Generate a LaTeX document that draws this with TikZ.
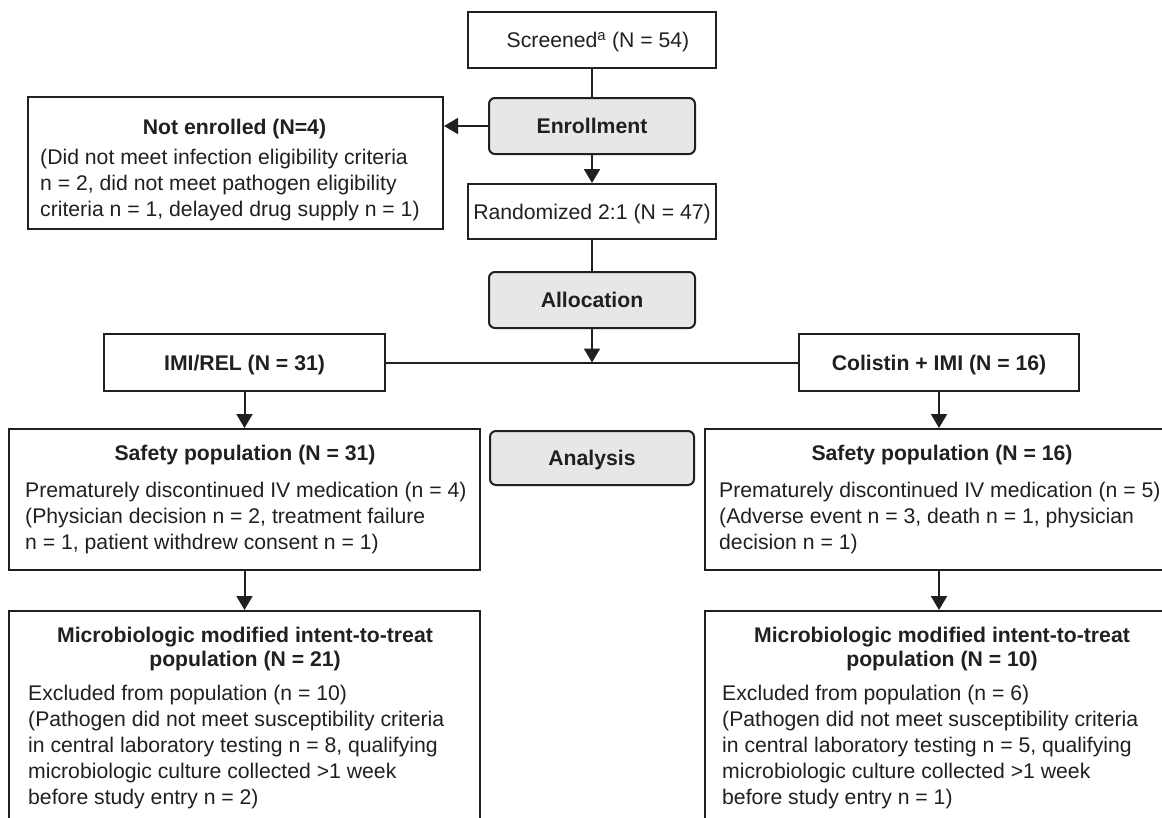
\documentclass[tikz,border=0pt]{standalone}
\usepackage{fontspec}
\setmainfont{Liberation Sans}
\usetikzlibrary{arrows.meta}
\definecolor{ink}{HTML}{231F20}
\definecolor{boxgray}{HTML}{E6E7E8}
\newcommand{\fls}{\rule{0pt}{20pt}}
\begin{document}
\begin{tikzpicture}[x=1pt,y=-1pt,
  every node/.style={font=\fontsize{21.2}{26}\selectfont, text=ink, inner sep=0pt},
  box/.style={draw=ink, line width=2pt, rectangle, fill=white},
  gbox/.style={draw=ink, line width=2pt, rectangle, rounded corners=6pt, fill=boxgray,
    font=\fontsize{21.2}{26}\selectfont\bfseries, text height=15.2pt, text depth=0pt},
  lbl/.style={text height=15.2pt, text depth=0pt},
  blbl/.style={lbl, font=\fontsize{21.2}{26}\selectfont\bfseries},
  body/.style={align=left, anchor=north west},
  mtitle/.style={align=center, anchor=north, font=\fontsize{21.2}{24}\selectfont\bfseries},
  conn/.style={draw=ink, line width=2pt},
  arr/.style={conn, -{Triangle[width=16pt,length=14pt]}},
]
\useasboundingbox (0,0) rectangle (1162,817);
\clip (0,0) rectangle (1162,817);
\fill[white] (0,0) rectangle (1162,817);

% top column
\node[box, minimum width=248pt, minimum height=56pt] (screen) at (592,40) {};
\node[lbl] (screent) at (598,40) {Screened\textsuperscript{a} (N = 54)};
\node[gbox, minimum width=206pt, minimum height=56pt] (enroll) at (592,126) {Enrollment};
\node[box, lbl, minimum width=248pt, minimum height=55pt] (rand) at (592,211.5) {Randomized 2:1 (N = 47)};
\node[gbox, minimum width=206pt, minimum height=56pt] (alloc) at (592,300) {Allocation};
\node[gbox, minimum width=204pt, minimum height=54pt] (analysis) at (592,458) {Analysis};

% not enrolled
\node[box, minimum width=415pt, minimum height=132pt] (notenr) at (235.5,163) {};
\node[blbl] (notenrt) at (234.5,127) {Not enrolled (N=4)};
\node[body] (notenrb) at (40,144.6) {\fls(Did not meet infection eligibility criteria\\n = 2, did not meet pathogen eligibility\\criteria n = 1, delayed drug supply n = 1)};

% arms
\node[box, blbl, minimum width=281pt, minimum height=57pt] (imirel) at (244.5,362.5) {IMI/REL (N = 31)};
\node[box, blbl, minimum width=280pt, minimum height=57pt] (colistin) at (939,362.5) {Colistin + IMI (N = 16)};

% safety populations
\node[box, minimum width=471pt, minimum height=141pt] (safetyL) at (244.5,499.5) {};
\node[blbl] (safetyLt) at (245,453) {Safety population (N = 31)};
\node[body] (safetyLb) at (25,477.6) {\fls Prematurely discontinued IV medication (n = 4)\\(Physician decision n = 2, treatment failure\\n = 1, patient withdrew consent n = 1)};

\node[box, minimum width=470pt, minimum height=141pt] (safetyR) at (940,499.5) {};
\node[blbl] (safetyRt) at (942,453) {Safety population (N = 16)};
\node[body] (safetyRb) at (719,477.6) {\fls Prematurely discontinued IV medication (n = 5)\\(Adverse event n = 3, death n = 1, physician\\decision n = 1)};

% micro populations
\node[box, minimum width=471pt, minimum height=229pt] (microL) at (244.5,725.5) {};
\node[mtitle] (microLt) at (245,622.6) {\fls Microbiologic modified intent-to-treat\\population (N = 21)};
\node[body] (microLb) at (28,680.6) {\fls Excluded from population (n = 10)\\(Pathogen did not meet susceptibility criteria\\in central laboratory testing n = 8, qualifying\\microbiologic culture collected >1 week\\before study entry n = 2)};

\node[box, minimum width=470pt, minimum height=229pt] (microR) at (940,725.5) {};
\node[mtitle] (microRt) at (942,622.6) {\fls Microbiologic modified intent-to-treat\\population (N = 10)};
\node[body] (microRb) at (722,680.6) {\fls Excluded from population (n = 6)\\(Pathogen did not meet susceptibility criteria\\in central laboratory testing n = 5, qualifying\\microbiologic culture collected >1 week\\before study entry n = 1)};

% connectors
\coordinate (split) at (alloc.south |- imirel.east);
\draw[conn] (screen.south) -- (enroll.north);
\draw[arr] (enroll.west) -- (enroll.west -| notenr.east);
\draw[arr] (enroll.south) -- (rand.north);
\draw[conn] (rand.south) -- (alloc.north);
\draw[conn] (imirel.east) -- (colistin.west);
\draw[arr] (alloc.south) -- (split);
\draw[arr] (imirel.south) -- (imirel.south |- safetyL.north);
\draw[arr] (colistin.south) -- (colistin.south |- safetyR.north);
\draw[arr] (safetyL.south) -- (safetyL.south |- microL.north);
\draw[arr] (colistin.south |- safetyR.south) -- (colistin.south |- microR.north);
\end{tikzpicture}
\end{document}
